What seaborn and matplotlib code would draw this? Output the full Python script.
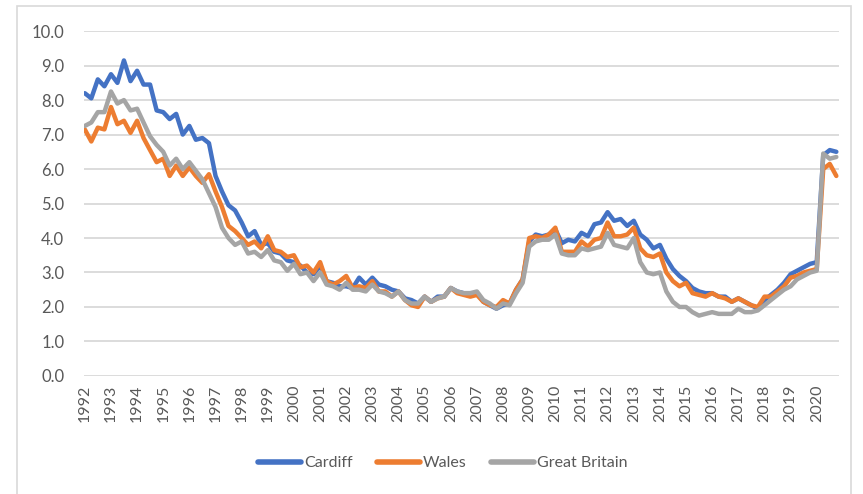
import pandas as pd
import numpy as np
import matplotlib
matplotlib.use('Agg')
import matplotlib.pyplot as plt
import matplotlib.dates as mdates
from matplotlib.patches import Rectangle
import seaborn as sns

# quarterly claimant rate (%), Jan/Apr/Jul/Oct of each year, 1992 - 2020
cardiff = [8.2, 8.05, 8.6, 8.4,   8.75, 8.5, 9.15, 8.55,  8.85, 8.45, 8.45, 7.7,
           7.65, 7.45, 7.6, 7.0,  7.25, 6.85, 6.9, 6.75,  5.8, 5.35, 4.95, 4.8,
           4.45, 4.05, 4.2, 3.8,  3.85, 3.6, 3.55, 3.35,  3.3, 3.2, 3.0, 2.95,
           3.2, 2.75, 2.7, 2.6,   2.6, 2.55, 2.85, 2.65,  2.85, 2.65, 2.6, 2.5,
           2.45, 2.25, 2.2, 2.1,  2.3, 2.15, 2.3, 2.3,    2.55, 2.45, 2.4, 2.4,
           2.4, 2.15, 2.05, 1.95, 2.05, 2.1, 2.5, 2.8,    3.9, 4.1, 4.05, 4.1,
           4.25, 3.85, 3.95, 3.9, 4.15, 4.05, 4.4, 4.45,  4.75, 4.5, 4.55, 4.35,
           4.5, 4.1, 3.95, 3.7,   3.8, 3.4, 3.1, 2.9,     2.75, 2.55, 2.45, 2.4,
           2.4, 2.3, 2.3, 2.15,   2.25, 2.15, 2.05, 1.95, 2.2, 2.35, 2.5, 2.7,
           2.95, 3.05, 3.15, 3.25, 3.3, 6.4, 6.55, 6.5]
wales = [7.15, 6.8, 7.2, 7.15,    7.8, 7.3, 7.4, 7.05,    7.4, 6.9, 6.55, 6.2,
         6.3, 5.8, 6.1, 5.8,      6.05, 5.8, 5.6, 5.85,   5.35, 4.9, 4.35, 4.2,
         4.0, 3.8, 3.9, 3.7,      4.05, 3.65, 3.6, 3.45,  3.5, 3.15, 3.2, 3.0,
         3.3, 2.75, 2.65, 2.75,   2.9, 2.55, 2.6, 2.55,   2.75, 2.45, 2.45, 2.3,
         2.45, 2.2, 2.05, 2.0,    2.3, 2.15, 2.25, 2.3,   2.55, 2.4, 2.35, 2.3,
         2.35, 2.15, 2.05, 2.0,   2.2, 2.1, 2.5, 2.8,     4.0, 4.05, 4.0, 4.1,
         4.3, 3.6, 3.6, 3.6,      3.9, 3.75, 3.95, 4.0,   4.45, 4.05, 4.05, 4.1,
         4.3, 3.7, 3.5, 3.45,     3.55, 3.0, 2.75, 2.6,   2.7, 2.4, 2.35, 2.3,
         2.4, 2.3, 2.25, 2.15,    2.25, 2.15, 2.05, 2.0,  2.3, 2.3, 2.45, 2.6,
         2.85, 2.9, 3.0, 3.05,    3.1, 6.0, 6.15, 5.8]
great_britain = [7.25, 7.35, 7.65, 7.65, 8.25, 7.9, 8.0, 7.7,  7.75, 7.35, 6.95, 6.7,
                 6.5, 6.1, 6.3, 6.0,     6.2, 5.95, 5.7, 5.3,   4.9, 4.3, 4.0, 3.8,
                 3.9, 3.55, 3.6, 3.45,   3.65, 3.35, 3.3, 3.05, 3.25, 2.95, 3.0, 2.75,
                 3.0, 2.65, 2.6, 2.5,    2.7, 2.5, 2.5, 2.45,   2.65, 2.45, 2.4, 2.3,
                 2.45, 2.2, 2.1, 2.1,    2.3, 2.15, 2.25, 2.3,  2.55, 2.45, 2.4, 2.4,
                 2.45, 2.2, 2.1, 1.95,   2.1, 2.05, 2.4, 2.7,   3.75, 3.9, 3.95, 3.95,
                 4.1, 3.55, 3.5, 3.5,    3.7, 3.65, 3.7, 3.75,  4.15, 3.8, 3.75, 3.7,
                 4.0, 3.3, 3.0, 2.95,    3.0, 2.45, 2.15, 2.0,  2.0, 1.85, 1.75, 1.8,
                 1.85, 1.8, 1.8, 1.8,    1.95, 1.85, 1.85, 1.9, 2.05, 2.2, 2.35, 2.5,
                 2.6, 2.8, 2.9, 3.0,     3.05, 6.45, 6.3, 6.35]
series_names = ['Cardiff', 'Wales', 'Great Britain']
colors = ['#4472C4', '#ED7D31', '#A5A5A5']

dates = pd.date_range('1992-01-01', periods=len(cardiff), freq='QS')
df = pd.DataFrame({'date': dates, 'Cardiff': cardiff, 'Wales': wales,
                   'Great Britain': great_britain})
df = df.melt(id_vars='date', var_name='area', value_name='rate')

sns.set_style('white')
plt.rcParams['font.family'] = ['Lato', 'DejaVu Sans']

fig = plt.figure(figsize=(8.63, 4.94), dpi=100)
ax = fig.add_axes([0.097, 0.239, 0.875, 0.698])

sns.lineplot(data=df, x='date', y='rate', hue='area', hue_order=series_names,
             palette=colors, linewidth=3.2, estimator=None, sort=False, ax=ax)
for line in ax.get_lines():
    line.set_solid_joinstyle('round')
    line.set_solid_capstyle('round')

ax.set_ylim(0, 10)
ax.set_yticks(np.arange(0, 11, 1))
ax.yaxis.set_major_formatter(plt.FormatStrFormatter('%.1f'))
ax.set_xlim(pd.Timestamp('1991-12-17'), pd.Timestamp('2020-11-05'))
ax.xaxis.set_major_locator(mdates.YearLocator(1))
ax.xaxis.set_major_formatter(mdates.DateFormatter('%Y'))
ax.tick_params(axis='x', labelrotation=90, length=0, labelsize=11.5,
               labelcolor='#595959', pad=6)
ax.tick_params(axis='y', length=0, labelsize=12, labelcolor='#595959', pad=14)
ax.grid(axis='y', color='#D9D9D9', linewidth=1.3)
ax.grid(axis='x', visible=False)
ax.set_axisbelow(True)
for s in ax.spines.values():
    s.set_visible(False)
ax.set_xlabel('')
ax.set_ylabel('')

handles, labels = ax.get_legend_handles_labels()
ax.get_legend().remove()
for h in handles:
    h.set_linewidth(4)
fig.legend(handles, labels, loc='center', bbox_to_anchor=(0.513, 0.062), ncol=3,
           frameon=False, fontsize=11.5, handlelength=2.7, handletextpad=0.2,
           columnspacing=1.5, labelcolor='#595959')

fig.patches.append(Rectangle((0.0197, -0.1), 0.966, 1.088, transform=fig.transFigure,
                             fill=False, edgecolor='#D9D9D9', linewidth=1.2))

fig.savefig('out.png', dpi=100)
